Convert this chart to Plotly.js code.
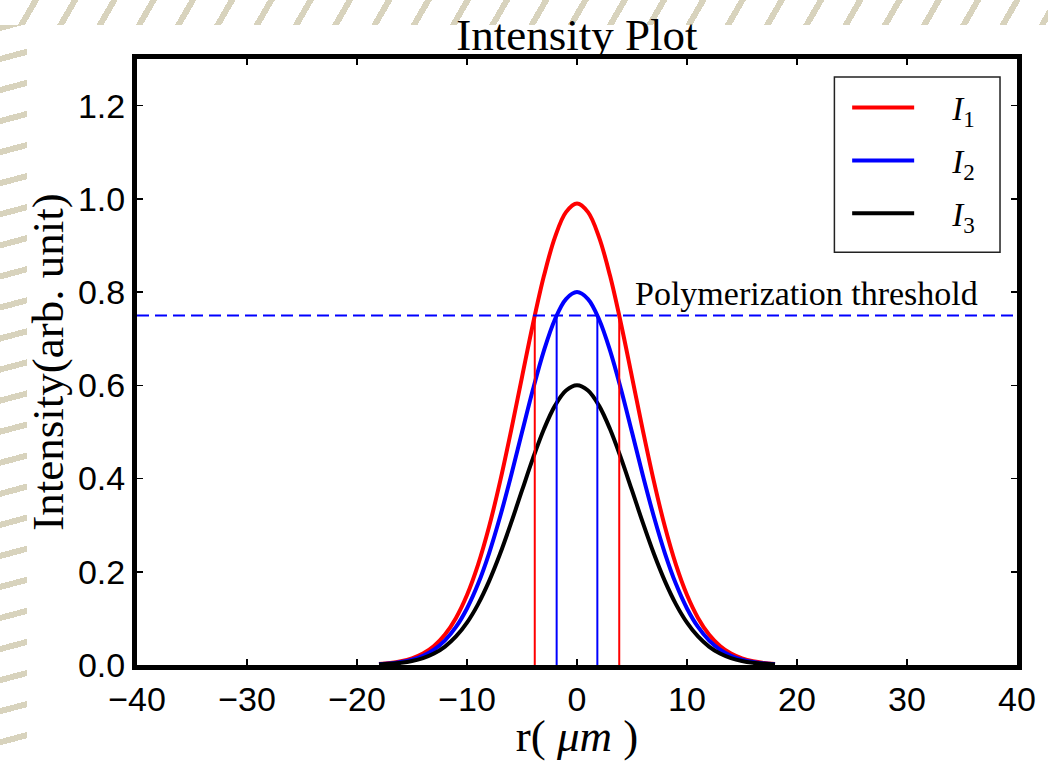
<!DOCTYPE html>
<html>
<head>
<meta charset="utf-8">
<script src="https://cdn.plot.ly/plotly-3.0.1.min.js"></script>
<style>
  html, body { margin: 0; padding: 0; background: #ffffff; }
  #wrap { position: relative; width: 1048px; height: 761px; overflow: hidden; background: #ffffff; }
  #hatchLeft { position: absolute; left: 0; top: 0; width: 27px; height: 761px;
    background: repeating-linear-gradient(165deg, #ffffff 0px, #ffffff 24px, #d8d3bd 24px, #d8d3bd 30px); }
  #hatchTop { position: absolute; left: 0; top: 0; width: 1048px; height: 25px;
    background: repeating-linear-gradient(120deg, #ffffff 0px, #ffffff 28px, #d8d3bd 28px, #d8d3bd 34px); }
  #plot { position: absolute; left: 0; top: 0; width: 1048px; height: 761px; }
</style>
</head>
<body>
<div id="wrap">
  <div id="hatchLeft"></div>
  <div id="hatchTop"></div>
  <div id="plot"></div>
</div>
<script>
// radial position (um)
const r = [-18,-17,-16,-15,-14,-13,-12,-11,-10,-9,-8,-7,-6,-5,-4,-3,-2,-1,0,1,2,3,4,5,6,7,8,9,10,11,12,13,14,15,16,17,18];
// intensities
const I1 = [0.0022,0.0042,0.0079,0.0142,0.0245,0.0408,0.0654,0.1010,0.1500,0.2147,0.2959,0.3928,0.5019,0.6177,0.7320,0.8354,0.9180,0.9715,0.990,0.9715,0.9180,0.8354,0.7320,0.6177,0.5019,0.3928,0.2959,0.2147,0.1500,0.1010,0.0654,0.0408,0.0245,0.0142,0.0079,0.0042,0.0022];
const I2 = [0.0018,0.0034,0.0064,0.0115,0.0198,0.0330,0.0529,0.0816,0.1213,0.1735,0.2391,0.3174,0.4056,0.4992,0.5916,0.6751,0.7418,0.7850,0.800,0.7850,0.7418,0.6751,0.5916,0.4992,0.4056,0.3174,0.2391,0.1735,0.1213,0.0816,0.0529,0.0330,0.0198,0.0115,0.0064,0.0034,0.0018];
const I3 = [0.0013,0.0026,0.0048,0.0086,0.0149,0.0247,0.0396,0.0612,0.0909,0.1301,0.1794,0.2380,0.3042,0.3744,0.4437,0.5063,0.5564,0.5888,0.600,0.5888,0.5564,0.5063,0.4437,0.3744,0.3042,0.2380,0.1794,0.1301,0.0909,0.0612,0.0396,0.0247,0.0149,0.0086,0.0048,0.0026,0.0013];
const seriesNames = ["<i>I</i><sub>1</sub>", "<i>I</i><sub>2</sub>", "<i>I</i><sub>3</sub>"];
const seriesColors = ["#ff0000", "#0000ff", "#000000"];
// threshold and crossing positions
const threshold = 0.75;
const xRange = [-40, 40];
const cross1 = [-3.84, 3.84];   // I1 crossing
const cross2 = [-1.85, 1.85];   // I2 crossing
const xTicks = [-40, -30, -20, -10, 0, 10, 20, 30, 40];
const yTicks = [0.0, 0.2, 0.4, 0.6, 0.8, 1.0, 1.2];

const pad = "\u00a0\u00a0\u00a0\u00a0";
const traces = [];
[I1, I2, I3].forEach((ys, k) => {
  traces.push({
    x: r, y: ys, type: 'scatter', mode: 'lines',
    name: pad + seriesNames[k], legendgroup: 'g' + k,
    line: { color: seriesColors[k], width: 4, shape: 'spline', smoothing: 1 },
    hoverinfo: 'skip'
  });
});
// vertical lines at crossings
cross1.forEach(c => traces.push({ x: [c, c], y: [0, threshold], type: 'scatter', mode: 'lines',
  line: { color: '#ff0000', width: 2 }, showlegend: false, hoverinfo: 'skip' }));
cross2.forEach(c => traces.push({ x: [c, c], y: [0, threshold], type: 'scatter', mode: 'lines',
  line: { color: '#0000ff', width: 2 }, showlegend: false, hoverinfo: 'skip' }));
// threshold line
traces.push({ x: xRange, y: [threshold, threshold], type: 'scatter', mode: 'lines',
  line: { color: '#0000ff', width: 2, dash: '12px,6px' }, showlegend: false, hoverinfo: 'skip' });

const axisCommon = {
  showline: true, linecolor: '#000000', linewidth: 5, mirror: 'allticks',
  ticks: 'inside', ticklen: 6, tickwidth: 1.5, tickcolor: '#000000',
  showgrid: false, zeroline: false,
  tickfont: { family: 'Liberation Sans, Arial, sans-serif', size: 34, color: '#000000' }
};

const serif = 'Liberation Serif, Times New Roman, serif';
const layout = {
  width: 1048, height: 761,
  paper_bgcolor: 'rgba(0,0,0,0)', plot_bgcolor: '#ffffff',
  margin: { l: 137, r: 31, t: 59, b: 96 },
  showlegend: true,
  title: { text: 'Intensity Plot', font: { family: serif, size: 45, color: '#000000' },
    x: 0.5, xref: 'paper', xanchor: 'center', y: 1, yref: 'paper', yanchor: 'bottom', pad: { b: 9 } },
  xaxis: Object.assign({}, axisCommon, {
    range: xRange, tickvals: xTicks, ticktext: xTicks.map(v => v < 0 ? '\u2212' + Math.abs(v) : String(v)),
    title: { text: 'r( <i>\u03bcm</i> )', font: { family: serif, size: 45, color: '#000000' }, standoff: 8 }
  }),
  yaxis: Object.assign({}, axisCommon, {
    range: [0, 1.3], tickvals: yTicks, ticktext: yTicks.map(v => v.toFixed(1)),
    title: { text: 'Intensity(arb. unit)', font: { family: serif, size: 45, color: '#000000' }, standoff: 2 }
  }),
  legend: {
    x: 0.807, y: 0.966, xanchor: 'left', yanchor: 'top',
    bgcolor: 'rgba(0,0,0,0)', borderwidth: 0,
    font: { family: serif, size: 33, color: '#000000' },
    traceorder: 'grouped', tracegroupgap: 7, itemwidth: 62
  },
  shapes: [{
    type: 'rect', xref: 'paper', yref: 'paper', layer: 'above',
    x0: 0.7925, x1: 0.9807, y0: 0.6809, y1: 0.9704,
    fillcolor: '#ffffff', line: { color: '#222222', width: 1.5 }
  }],
  annotations: [{
    x: 5.08, y: 0.797, xref: 'x', yref: 'y', xanchor: 'left', yanchor: 'middle',
    text: 'Polymerization threshold', showarrow: false,
    font: { family: serif, size: 34, color: '#000000' }
  }]
};

Plotly.newPlot('plot', traces, layout, { displayModeBar: false, staticPlot: true });
</script>
</body>
</html>
